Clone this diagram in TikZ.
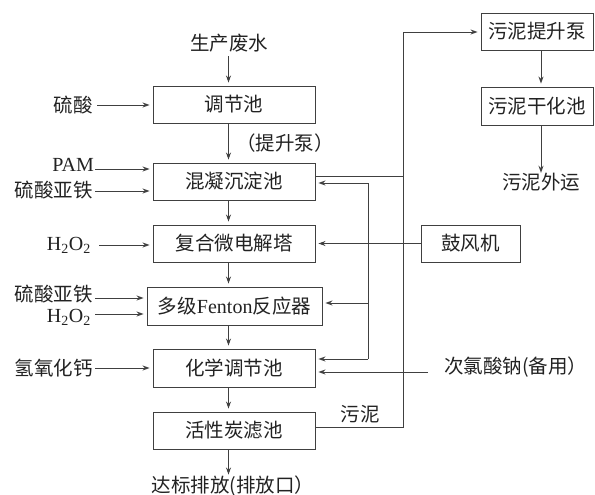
\documentclass[tikz,border=0pt]{standalone}
\usepackage{fontspec}
\setmainfont{Liberation Serif}
\newfontfamily\cjk{Noto Sans CJK SC}
\usetikzlibrary{arrows.meta}
\definecolor{ink}{HTML}{222222}
\definecolor{ln}{HTML}{404040}
\tikzset{
  every node/.style={font=\cjk\fontsize{19.5}{21}\selectfont, text=ink, inner sep=0pt},
  box/.style={draw=ln, line width=0.9pt, minimum width=162pt, minimum height=37pt},
  rbox/.style={draw=ln, line width=0.9pt, minimum width=112pt, minimum height=37pt},
  flow/.style={draw=ln, line width=0.9pt, -{Stealth[length=7pt,width=5pt]}, shorten >=3pt},
  pipe/.style={draw=ln, line width=0.9pt},
}
\newcommand{\lat}[1]{{\rmfamily\fontsize{20}{21}\selectfont #1}}
\begin{document}
\begin{tikzpicture}[x=1pt,y=-1pt]
\useasboundingbox (0,0) rectangle (595,495);
% main column
\node (src) at (229,43) {生产废水};
\node[anchor=west] (pump) at (236,143) {（提升泵）};
\node[box] (b1) at (234,104.5) {调节池};
\node[box] (b2) at (234,181.5) {混凝沉淀池};
\node[box] (b3) at (234,243.5) {复合微电解塔};
\node[box, minimum width=175pt, minimum height=38pt] (b4) at (234.5,306) {多级\lat{Fenton}反应器};
\node[box, minimum height=38pt] (b5) at (234,368) {化学调节池};
\node[box] (b6) at (234,430.5) {活性炭滤池};
\node (out) at (233,486) {达标排放(排放口）};
\coordinate (cx) at (228.5,0);
\draw[flow] (src.south -| cx) ++(0,4) -- (b1.north -| cx);
\draw[flow] (b1.south -| cx) -- (b2.north -| cx);
\draw[flow] (b2.south -| cx) -- (b3.north -| cx);
\draw[flow] (b3.south -| cx) -- (b4.north -| cx);
\draw[flow] (b4.south -| cx) -- (b5.north -| cx);
\draw[flow] (b5.south -| cx) -- (b6.north -| cx);
\draw[flow] (b6.south -| cx) -- ([yshift=-2pt]out.north -| cx);
% left inputs
\node[anchor=east] (l1) at (93,105) {硫酸};
\node[anchor=east] (l2) at (94,165) {\lat{PAM}};
\node[anchor=east] (l3) at (93,190) {硫酸亚铁};
\node[anchor=east] (l4) at (91,245) {\lat{H\textsubscript{2}O\textsubscript{2}}};
\node[anchor=east] (l5) at (93,294) {硫酸亚铁};
\node[anchor=east] (l6) at (91,317) {\lat{H\textsubscript{2}O\textsubscript{2}}};
\node[anchor=east] (l7) at (93,368) {氢氧化钙};
\coordinate (a1) at (97,105);
\coordinate (a2) at (95,169);
\coordinate (a3) at (95,191);
\coordinate (a4) at (99,245);
\coordinate (a5) at (95,298);
\coordinate (a6) at (95,314);
\coordinate (a7) at (95,368);
\draw[flow] (a1) -- (a1 -| b1.west);
\draw[flow] (a2) -- (a2 -| b2.west);
\draw[flow] (a3) -- (a3 -| b2.west);
\draw[flow] (a4) -- (a4 -| b3.west);
\draw[flow] (a5) -- (a5 -| b4.west);
\draw[flow] (a6) -- (a6 -| b4.west);
\draw[flow] (a7) -- (a7 -| b5.west);
% right side
\node[rbox] (s1) at (537,31.5) {污泥提升泵};
\node[rbox, minimum height=38pt] (s2) at (537,106) {污泥干化池};
\node (s3) at (541,182) {污泥外运};
\coordinate (sx) at (541,0);
\draw[flow] (s1.south -| sx) -- (s2.north -| sx);
\draw[flow] (s2.south -| sx) -- ([yshift=-3pt]s3.north -| sx);
\node[draw=ln, line width=0.9pt, minimum width=99pt, minimum height=37pt] (blow) at (470.5,243.5) {鼓风机};
\node[anchor=west] (naclo) at (444,367) {次氯酸钠(备用）};
% sludge line
\coordinate (k1) at (403,427);
\coordinate (k2) at (403,32);
\coordinate (k3) at (403,176);
\node[above] (sl) at (360,423) {污泥};
\draw[pipe] (k1 -| b6.east) -- (k1) -- (k2);
\draw[flow] (k2) -- (k2 -| s1.west);
\draw[pipe] (k3 -| b2.east) -- (k3);
% return line
\coordinate (r1) at (368,183);
\coordinate (r2) at (368,303);
\coordinate (r3) at (368,359);
\draw[pipe] (r1) -- (r3);
\draw[flow] (r1) -- (r1 -| b2.east);
\draw[flow] (r2) -- (r2 -| b4.east);
\draw[flow] (r3) -- (r3 -| b5.east);
% blower and NaClO
\draw[flow] (blow.west) -- (blow.west -| b3.east);
\coordinate (n1) at (428,372);
\draw[flow] (n1) -- (n1 -| b5.east);
\end{tikzpicture}
\end{document}
